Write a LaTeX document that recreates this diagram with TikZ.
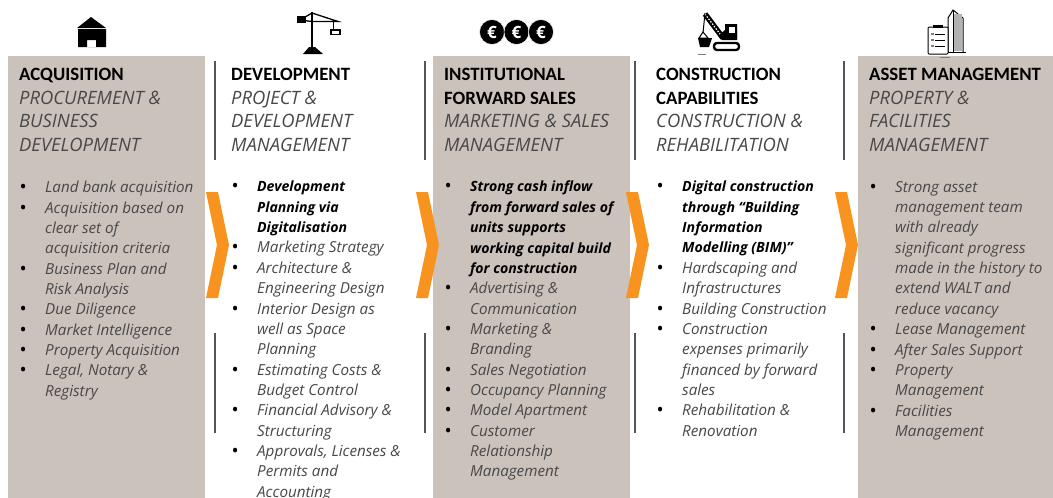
\documentclass[tikz,border=0pt]{standalone}
\usepackage{fontspec}
\setmainfont{Open Sans}
\newfontfamily\headfont{Carlito}
\definecolor{boxc}{HTML}{CBC2BC}
\definecolor{orangec}{HTML}{F7931E}
\definecolor{rulec}{HTML}{555555}
\definecolor{subc}{HTML}{484848}
\newcommand{\bl}{\leavevmode\llap{{\color{black}\upshape\fontsize{19}{20.35}\selectfont\raisebox{-1pt}{\textbullet}}\hspace{18.5pt}}}
\newcommand{\bt}[1]{{\fontsize{14.1}{20.35}\selectfont\bfseries\color{black}#1}}
\tikzset{
 x=1pt,y=-1pt,
 panel/.style={fill=boxc,draw=none},
 divider/.style={draw=rulec,line width=1.2pt},
 chev/.style={fill=orangec,draw=none},
 ico/.style={fill=black,draw=none},
 head/.style={anchor=north west,inner sep=0pt,align=left,font=\fontsize{18.4}{23.7}\selectfont,text=subc},
 lst/.style={anchor=north west,inner sep=0pt,align=left,font=\fontsize{15.2}{20.35}\selectfont\itshape,text=subc},
}
\newcommand{\hd}[1]{{\headfont\bfseries\fontsize{18.8}{23.7}\selectfont\color{black}#1}}
\newcommand{\chevron}[1]{\fill[chev,shift={(#1,0)}] (0,192)--(12,192)--(23,245)--(12,298)--(0,298)--(11,245)--cycle;}
\begin{document}
\begin{tikzpicture}
\useasboundingbox (0,0) rectangle (1053,498);
\fill[white] (0,0) rectangle (1053,498);
\fill[panel] (8,56) rectangle (205,498);
\fill[panel] (433,56) rectangle (630,498);
\fill[panel] (858,56) rectangle (1053,498);
\foreach \x in {215,425,635,844}{
 \draw[divider] (\x,61)--(\x,160);
 \draw[divider] (\x,333)--(\x,433);
}
\chevron{206}\chevron{416}\chevron{626}\chevron{835}
% house
\fill[ico] (77,28)--(91,17)--(106,28)--cycle;
\fill[ico,even odd rule] (78,29) rectangle (106,47) (87,40) rectangle (96,47);
% crane
\draw[line width=2pt] (312,12)--(312,50);
\fill[ico] (309,47)--(315,47)--(323,54)--(303,54)--cycle;
\fill[ico] (297,16) rectangle (306,23);
\draw[line width=1.3pt] (300,20)--(312,13)--(338,21.5)--(312,21.5)--(300,20);
\draw[line width=.8pt] (333,21)--(333,30);
\draw[line width=1.2pt,fill=white] (331,30) rectangle (340,34.5);
% euro
\foreach \x in {492,516.5,541}{
 \fill[ico,draw=white,line width=.5pt] (\x,32) circle (12.5);
 \node[text=white,inner sep=0pt,font=\bfseries\fontsize{17}{17}\selectfont] (e\x) at (\x,32) {€};
}
% machine
\draw[line width=5.5pt] (705,14)--(723,38);
\draw[line width=1.2pt,white,dash pattern=on 1.5pt off 1.5pt] (705,14)--(723,38);
\draw[line width=1pt] (705,13)--(703,33);
\draw[line width=1pt] (703,32)--(699,38)--(708,38)--cycle;
\fill[ico] (698,38)--(712,38)--(709,47)--(700,47)--cycle;
\fill[ico,even odd rule] (725,24) rectangle (737,39) (729,27) rectangle (735,33);
\fill[ico] (718,36)--(725,30)--(737,30)--(737,40)--(722,40)--cycle;
\fill[white] (729,27) rectangle (735,33);
\draw[line width=2.4pt,rounded corners=3pt] (714,43) rectangle (739,50);
\draw[draw=gray,line width=.7pt] (698,54)--(706,54);
% building
\draw[line width=1pt,fill=white] (948,52)--(948,18)--(953,10)--(963,18)--(963,52);
\fill[gray!60] (953,14) rectangle (962,51);
\draw[line width=1pt] (953,10)--(953,52);
\draw[line width=1pt] (946,52)--(966,52);
\draw[line width=1pt,fill=white,rounded corners=1pt] (928,27) rectangle (948,54);
\fill[ico] (933,24.5) rectangle (943,28);
\foreach \y in {34,40,46}{\fill[gray] (931,\y-1) rectangle (933.5,\y+1); \draw[line width=.7pt] (935,\y)--(945,\y);}
\draw[draw=gray,line width=.7pt] (940,57)--(950,57);
% text
\node[head] (h1) at (19,68) {\hd{ACQUISITION}\\\itshape PROCUREMENT \&\\\itshape BUSINESS\\\itshape DEVELOPMENT};
\node[head] (h2) at (231,68) {\hd{DEVELOPMENT}\\\itshape PROJECT \&\\\itshape DEVELOPMENT\\\itshape MANAGEMENT};
\node[head] (h3) at (444,68) {\hd{INSTITUTIONAL}\\\hd{FORWARD SALES}\\\itshape MARKETING \& SALES\\\itshape MANAGEMENT};
\node[head] (h4) at (656,68) {\hd{CONSTRUCTION}\\\hd{CAPABILITIES}\\\itshape CONSTRUCTION \&\\\itshape REHABILITATION};
\node[head] (h5) at (869,68) {\hd{ASSET MANAGEMENT}\\\itshape PROPERTY \&\\\itshape FACILITIES\\\itshape MANAGEMENT};
\node[lst] (l1) at (45,181) {\bl Land bank acquisition\\\bl Acquisition based on\\clear set of\\acquisition criteria\\\bl Business Plan and\\Risk Analysis\\\bl Due Diligence\\\bl Market Intelligence\\\bl Property Acquisition\\\bl Legal, Notary \&\\Registry};
\node[lst] (l2) at (257,181) {\bl\bt{Development}\\\bt{Planning via}\\\bt{Digitalisation}\\\bl Marketing Strategy\\\bl Architecture \&\\Engineering Design\\\bl Interior Design as\\well as Space\\Planning\\\bl Estimating Costs \&\\Budget Control\\\bl Financial Advisory \&\\Structuring\\\bl Approvals, Licenses \&\\Permits and\\Accounting};
\node[lst] (l3) at (470,181) {\bl\bt{Strong cash inflow}\\\bt{from forward sales of}\\\bt{units supports}\\\bt{working capital build}\\\bt{for construction}\\\bl Advertising \&\\Communication\\\bl Marketing \&\\Branding\\\bl Sales Negotiation\\\bl Occupancy Planning\\\bl Model Apartment\\\bl Customer\\Relationship\\Management};
\node[lst] (l4) at (682,181) {\bl\bt{Digital construction}\\\bt{through “Building}\\\bt{Information}\\\bt{Modelling (BIM)”}\\\bl Hardscaping and\\Infrastructures\\\bl Building Construction\\\bl Construction\\expenses primarily\\financed by forward\\sales\\\bl Rehabilitation \&\\Renovation};
\node[lst] (l5) at (895,181) {\bl Strong asset\\management team\\with already\\significant progress\\made in the history to\\extend WALT and\\reduce vacancy\\\bl Lease Management\\\bl After Sales Support\\\bl Property\\Management\\\bl Facilities\\Management};
\end{tikzpicture}
\end{document}
